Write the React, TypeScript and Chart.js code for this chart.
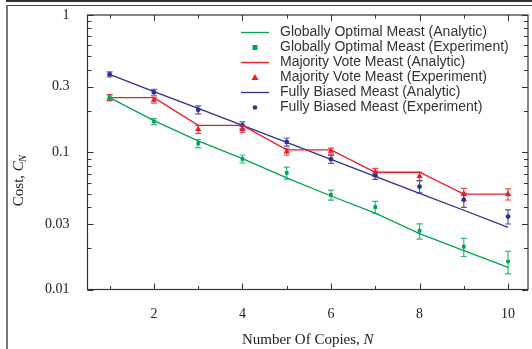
import React, { useEffect, useRef } from "react";
import { Chart, registerables } from "chart.js";

Chart.register(...registerables);

// ---------- data ----------
const copies = [1, 2, 3, 4, 5, 6, 7, 8, 9, 10];
const xTickLabels = [2, 4, 6, 8, 10];
const yTickLabels = [0.01, 0.03, 0.1, 0.3, 1];
const yMinorTicks = [0.02, 0.04, 0.05, 0.06, 0.07, 0.08, 0.09, 0.2, 0.4, 0.5, 0.6, 0.7, 0.8, 0.9];

const globalAnalytic = [0.25, 0.17, 0.121, 0.09, 0.065, 0.048, 0.036, 0.0255, 0.0192, 0.0145];
const globalExperiment = [0.25, 0.1675, 0.116, 0.0895, 0.0708, 0.0489, 0.0398, 0.0267, 0.0205, 0.016];
const globalError = [0.0126, 0.0084, 0.0078, 0.006, 0.0071, 0.0041, 0.004, 0.0034, 0.0031, 0.003];

const majorityAnalytic = [0.25, 0.25, 0.157, 0.157, 0.104, 0.104, 0.0715, 0.0715, 0.0495, 0.0495];
const majorityExperiment = [0.25, 0.24, 0.147, 0.147, 0.101, 0.102, 0.0716, 0.067, 0.0495, 0.0495];
const majorityError = [0.0126, 0.012, 0.0099, 0.0074, 0.0059, 0.0051, 0.0048, 0.0045, 0.005, 0.0046];

const biasedAnalytic = [0.369, 0.277, 0.209, 0.157, 0.118, 0.0888, 0.0668, 0.0502, 0.0378, 0.0284];
const biasedExperiment = [0.369, 0.274, 0.204, 0.157, 0.119, 0.089, 0.068, 0.0562, 0.045, 0.034];
const biasedError = [0.0155, 0.0138, 0.0137, 0.0092, 0.008, 0.006, 0.0046, 0.0057, 0.0053, 0.004];

const seriesNames = [
  "Globally Optimal Meast (Analytic)",
  "Globally Optimal Meast (Experiment)",
  "Majority Vote Meast (Analytic)",
  "Majority Vote Meast (Experiment)",
  "Fully Biased Meast (Analytic)",
  "Fully Biased Meast (Experiment)",
];

// ---------- styles ----------
const GREEN = "#00a651";
const RED = "#ed1c24";
const BLUE = "#2e3192";
const GREEN_ERR = "rgba(0,166,81,0.8)";
const RED_ERR = "rgba(237,28,36,0.8)";
const BLUE_ERR = "rgba(46,49,146,0.8)";
const SERIF = '"Liberation Serif", "DejaVu Serif", serif';
const SANS = '"Liberation Sans", Arial, sans-serif';
const TEXT = "#222";

const pts = (vals: number[]) => copies.map((n, i) => ({ x: n, y: vals[i] }));

const errorBarPlugin = {
  id: "errorBars",
  beforeDatasetsDraw(chart: any) {
    const { ctx } = chart;
    const xs = chart.scales.x;
    const ys = chart.scales.y;
    chart.data.datasets.forEach((ds: any) => {
      if (!ds.errorBars) return;
      ctx.save();
      ctx.strokeStyle = ds.errorColor;
      ctx.lineWidth = 1.2;
      ds.data.forEach((p: any, i: number) => {
        const e = ds.errorBars[i];
        const px = xs.getPixelForValue(p.x);
        const t = ys.getPixelForValue(p.y + e);
        const b = ys.getPixelForValue(p.y - e);
        ctx.beginPath();
        ctx.moveTo(px, t);
        ctx.lineTo(px, b);
        ctx.moveTo(px - 3, t);
        ctx.lineTo(px + 3, t);
        ctx.moveTo(px - 3, b);
        ctx.lineTo(px + 3, b);
        ctx.stroke();
      });
      ctx.restore();
    });
  },
};

const framePlugin = {
  id: "frameTicks",
  afterDraw(chart: any) {
    const { ctx, chartArea } = chart;
    const { left, right, top, bottom } = chartArea;
    const xs = chart.scales.x;
    const ys = chart.scales.y;
    ctx.save();
    ctx.strokeStyle = "#333";
    ctx.lineWidth = 1.2;
    ctx.strokeRect(left, top, right - left, bottom - top);
    ctx.lineWidth = 1;
    ctx.beginPath();
    copies.forEach((n) => {
      const len = xTickLabels.includes(n) ? 6 : 3.5;
      const px = Math.round(xs.getPixelForValue(n)) + 0.5;
      ctx.moveTo(px, bottom);
      ctx.lineTo(px, bottom - len);
      ctx.moveTo(px, top);
      ctx.lineTo(px, top + len);
    });
    const yt = [...yTickLabels.map((v) => [v, 6]), ...yMinorTicks.map((v) => [v, 4])];
    yt.forEach(([v, len]) => {
      const py = Math.round(ys.getPixelForValue(v)) + 0.5;
      ctx.moveTo(left, py);
      ctx.lineTo(left + len, py);
      ctx.moveTo(right, py);
      ctx.lineTo(right - len, py);
    });
    ctx.stroke();

    // axis titles
    ctx.fillStyle = TEXT;
    ctx.textBaseline = "middle";
    ctx.textAlign = "left";
    const cx = (left + right) / 2;
    ctx.font = `15px ${SERIF}`;
    const p1 = "Number Of Copies, ";
    const w1 = ctx.measureText(p1).width;
    ctx.font = `italic 15px ${SERIF}`;
    const w2 = ctx.measureText("N").width;
    let sx = cx - (w1 + w2) / 2;
    ctx.font = `15px ${SERIF}`;
    ctx.fillText(p1, sx, 340);
    ctx.font = `italic 15px ${SERIF}`;
    ctx.fillText("N", sx + w1, 340);

    ctx.save();
    ctx.translate(19, 180);
    ctx.rotate(-Math.PI / 2);
    ctx.font = `15px ${SERIF}`;
    const c1 = "Cost, ";
    const cw1 = ctx.measureText(c1).width;
    ctx.font = `italic 15px ${SERIF}`;
    const cw2 = ctx.measureText("C").width;
    ctx.font = `italic 11px ${SERIF}`;
    const cw3 = ctx.measureText("N").width;
    const total = cw1 + cw2 + cw3;
    let ox = -total / 2;
    ctx.font = `15px ${SERIF}`;
    ctx.fillText(c1, ox, 0);
    ctx.font = `italic 15px ${SERIF}`;
    ctx.fillText("C", ox + cw1, 0);
    ctx.font = `italic 11px ${SERIF}`;
    ctx.fillText("N", ox + cw1 + cw2 - 1, 4);
    ctx.restore();

    // legend
    const lx0 = 241;
    const lx1 = 269;
    const tx = 280;
    ctx.font = `14px ${SANS}`;
    chart.data.datasets.forEach((ds: any, i: number) => {
      const yy = 32.5 + i * 15;
      if (ds.showLine === false) {
        const mx = (lx0 + lx1) / 2;
        ctx.fillStyle = ds.pointBackgroundColor;
        ctx.beginPath();
        if (ds.pointStyle === "rect") {
          ctx.rect(mx - 2.5, yy - 2.5, 5, 5);
        } else if (ds.pointStyle === "triangle") {
          ctx.moveTo(mx, yy - 3.5);
          ctx.lineTo(mx + 3.5, yy + 2.5);
          ctx.lineTo(mx - 3.5, yy + 2.5);
          ctx.closePath();
        } else {
          ctx.arc(mx, yy, 2.3, 0, Math.PI * 2);
        }
        ctx.fill();
      } else {
        ctx.strokeStyle = ds.borderColor;
        ctx.lineWidth = 1.3;
        ctx.beginPath();
        ctx.moveTo(lx0, yy);
        ctx.lineTo(lx1, yy);
        ctx.stroke();
      }
      ctx.fillStyle = "#333";
      ctx.fillText(ds.label, tx, yy);
    });
    ctx.restore();
  },
};

export default function App() {
  const ref = useRef<HTMLCanvasElement | null>(null);

  useEffect(() => {
    if (!ref.current) return;
    const lineDs = (label: string, vals: number[], color: string) => ({
      label,
      data: pts(vals),
      borderColor: color,
      backgroundColor: color,
      borderWidth: 1.3,
      pointRadius: 0,
      tension: 0,
    });
    const expDs = (label: string, vals: number[], errs: number[], color: string, errColor: string, style: string, r: number) => ({
      label,
      data: pts(vals),
      showLine: false,
      borderColor: color,
      backgroundColor: color,
      pointBackgroundColor: color,
      pointBorderWidth: 0,
      pointStyle: style,
      pointRadius: r,
      errorBars: errs,
      errorColor: errColor,
    });

    const chart = new Chart(ref.current, {
      type: "line",
      data: {
        datasets: [
          lineDs(seriesNames[0], globalAnalytic, GREEN),
          expDs(seriesNames[1], globalExperiment, globalError, GREEN, GREEN_ERR, "rect", 2.6),
          lineDs(seriesNames[2], majorityAnalytic, RED),
          expDs(seriesNames[3], majorityExperiment, majorityError, RED, RED_ERR, "triangle", 3.6),
          lineDs(seriesNames[4], biasedAnalytic, BLUE),
          expDs(seriesNames[5], biasedExperiment, biasedError, BLUE, BLUE_ERR, "circle", 2.4),
        ] as any,
      },
      options: {
        animation: false,
        responsive: false,
        devicePixelRatio: 1,
        layout: { padding: { left: 0, top: 15, right: 3, bottom: 0 } },
        plugins: { legend: { display: false }, tooltip: { enabled: false } },
        scales: {
          x: {
            type: "linear",
            min: 0.5,
            max: 10.45,
            grid: { display: false, drawTicks: false },
            border: { display: false },
            afterBuildTicks: (s: any) => {
              s.ticks = xTickLabels.map((v) => ({ value: v }));
            },
            afterFit: (s: any) => {
              s.height = 59.5;
              s.paddingLeft = 0;
              s.paddingRight = 0;
            },
            ticks: {
              padding: 16,
              color: TEXT,
              font: { family: SERIF, size: 14 },
              maxRotation: 0,
              callback: (v: any) => String(v),
            },
          },
          y: {
            type: "logarithmic",
            min: 0.01,
            max: 1,
            grid: { display: false, drawTicks: false },
            border: { display: false },
            afterBuildTicks: (s: any) => {
              s.ticks = yTickLabels.map((v) => ({ value: v }));
            },
            afterFit: (s: any) => {
              s.width = 87.5;
              s.paddingTop = 0;
              s.paddingBottom = 0;
            },
            ticks: {
              padding: 18,
              color: TEXT,
              font: { family: SERIF, size: 14 },
              callback: (v: any) => String(v),
            },
          },
        },
      },
      plugins: [errorBarPlugin, framePlugin],
    } as any);
    return () => chart.destroy();
  }, []);

  return (
    <div style={{ position: "fixed", left: 0, top: 0, width: 532, height: 349, background: "#fff", overflow: "hidden" }}>
      <div style={{ position: "absolute", left: 6, top: 0, width: 526, height: 2, background: "#333" }} />
      <div style={{ position: "absolute", left: 7, top: 5, width: 525, height: 1, background: "#444" }} />
      <div style={{ position: "absolute", left: 6, top: 5, width: 2, height: 344, background: "#777" }} />
      <canvas ref={ref} width={532} height={349} style={{ position: "absolute", left: 0, top: 0 }} />
    </div>
  );
}
